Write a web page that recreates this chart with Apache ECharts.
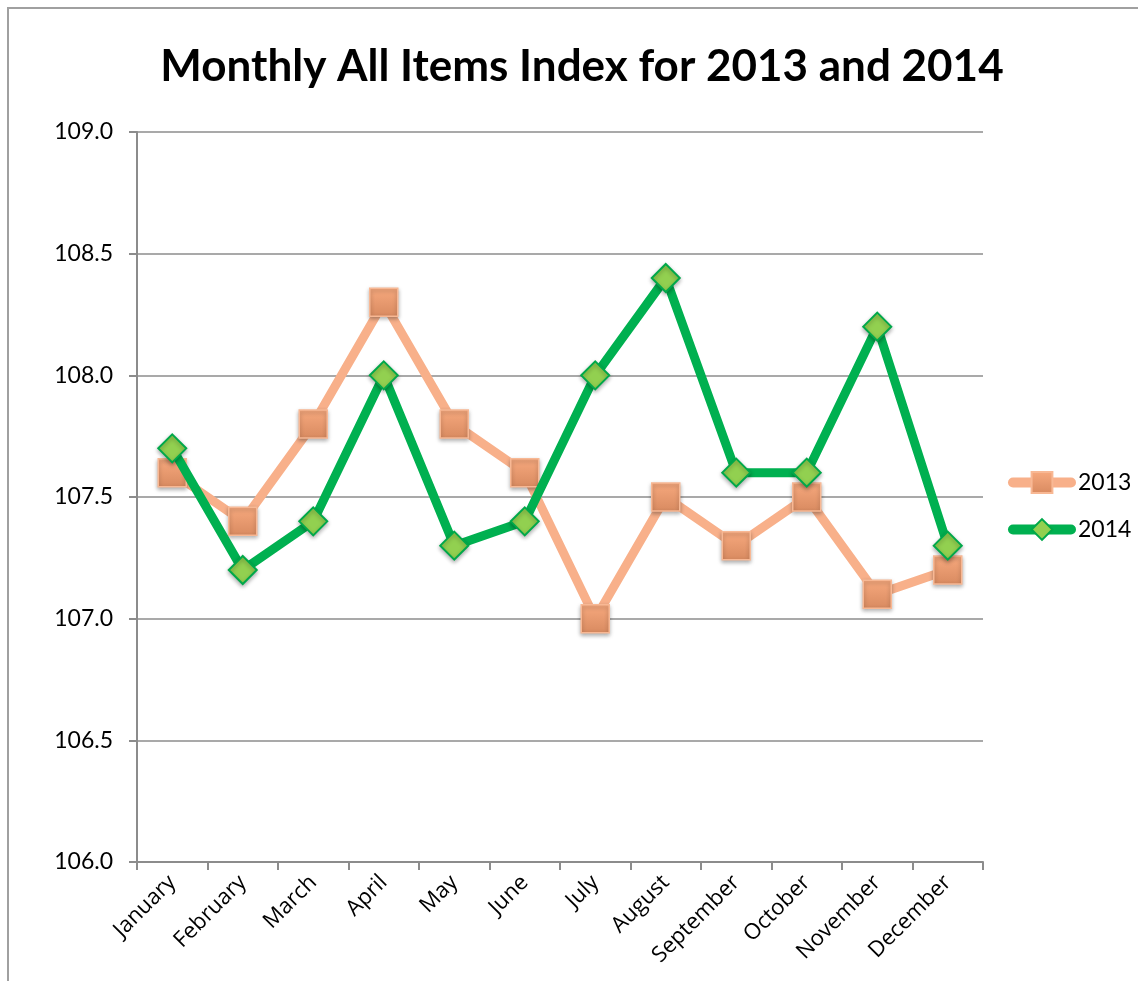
<!DOCTYPE html>
<html>
<head>
<meta charset="utf-8">
<script src="https://cdn.jsdelivr.net/npm/echarts@6/dist/echarts.min.js"></script>
<style>
  html, body { margin: 0; padding: 0; background: #fff; overflow: hidden; }
  #frame { position: absolute; left: 7px; top: 7px; width: 1300px; height: 1100px; border-left: 2px solid #a0a0a0; border-top: 2px solid #a0a0a0; }
  #chart { position: absolute; left: 0; top: 0; width: 1138px; height: 981px; }
</style>
</head>
<body>
<div id="frame"></div>
<div id="chart"></div>
<script>
// months on the x axis
var months = ['January', 'February', 'March', 'April', 'May', 'June',
  'July', 'August', 'September', 'October', 'November', 'December'];
// index values
var values2013 = [107.6, 107.4, 107.8, 108.3, 107.8, 107.6, 107.0, 107.5, 107.3, 107.5, 107.1, 107.2];
var values2014 = [107.7, 107.2, 107.4, 108.0, 107.3, 107.4, 108.0, 108.4, 107.6, 107.6, 108.2, 107.3];

var font = 'Lato, "Open Sans", sans-serif';
var myChart = echarts.init(document.getElementById('chart'));
var option = {
  backgroundColor: 'transparent',
  animation: false,
  title: {
    text: 'Monthly All Items Index for 2013 and 2014',
    left: 577,
    textAlign: 'center',
    top: 40,
    textStyle: { fontFamily: font, fontWeight: 'bold', fontSize: 44, color: '#000' }
  },
  legend: {
    orient: 'vertical',
    left: 1003,
    top: 466,
    itemGap: 24,
    itemWidth: 58,
    itemHeight: 26,
    lineStyle: { width: 10, cap: 'round' },
    textStyle: { fontFamily: font, fontSize: 23, color: '#000', padding: [0, 0, 0, 2] },
    data: ['2013', '2014']
  },
  grid: { left: 137, right: 155, top: 132, bottom: 119 },
  xAxis: {
    type: 'category',
    data: months,
    boundaryGap: true,
    axisLine: { lineStyle: { color: '#8c8c8c', width: 2 } },
    axisTick: { show: true, length: 8, alignWithLabel: false, lineStyle: { color: '#8c8c8c', width: 2 } },
    axisLabel: { rotate: 45, interval: 0, margin: 17, fontFamily: '"Open Sans", sans-serif', fontSize: 22, color: '#000' }
  },
  yAxis: {
    type: 'value',
    min: 106,
    max: 109,
    interval: 0.5,
    axisLine: { show: true, lineStyle: { color: '#8c8c8c', width: 2 } },
    axisTick: { show: true, length: 8, inside: false, lineStyle: { color: '#8c8c8c', width: 2 } },
    axisLabel: { margin: 24, fontFamily: font, fontSize: 23, color: '#000',
      formatter: function (v) { return v.toFixed(1); } },
    splitLine: { lineStyle: { color: '#8c8c8c', width: 1.5 } }
  },
  series: [
    {
      name: '2013',
      type: 'line',
      data: values2013,
      symbol: 'rect',
      symbolSize: 28,
      lineStyle: { color: '#f8b08a', width: 9, cap: 'round', join: 'round' },
      itemStyle: {
        color: new echarts.graphic.LinearGradient(0, 0, 0, 1, [
          { offset: 0, color: '#f7a97e' },
          { offset: 1, color: '#d88a60' }
        ]),
        borderColor: '#f8b894',
        borderWidth: 1.5,
        shadowBlur: 4,
        shadowColor: 'rgba(0,0,0,0.3)',
        shadowOffsetY: 2
      },
      z: 2
    },
    {
      name: '2014',
      type: 'line',
      data: values2014,
      symbol: 'diamond',
      symbolSize: [28, 28],
      lineStyle: { color: '#00b050', width: 9, cap: 'round', join: 'round' },
      itemStyle: {
        color: '#92d050',
        borderColor: '#00a84a',
        borderWidth: 2,
        shadowBlur: 4,
        shadowColor: 'rgba(0,0,0,0.3)',
        shadowOffsetY: 2
      },
      z: 3
    }
  ]
};
myChart.setOption(option);
</script>
</body>
</html>
